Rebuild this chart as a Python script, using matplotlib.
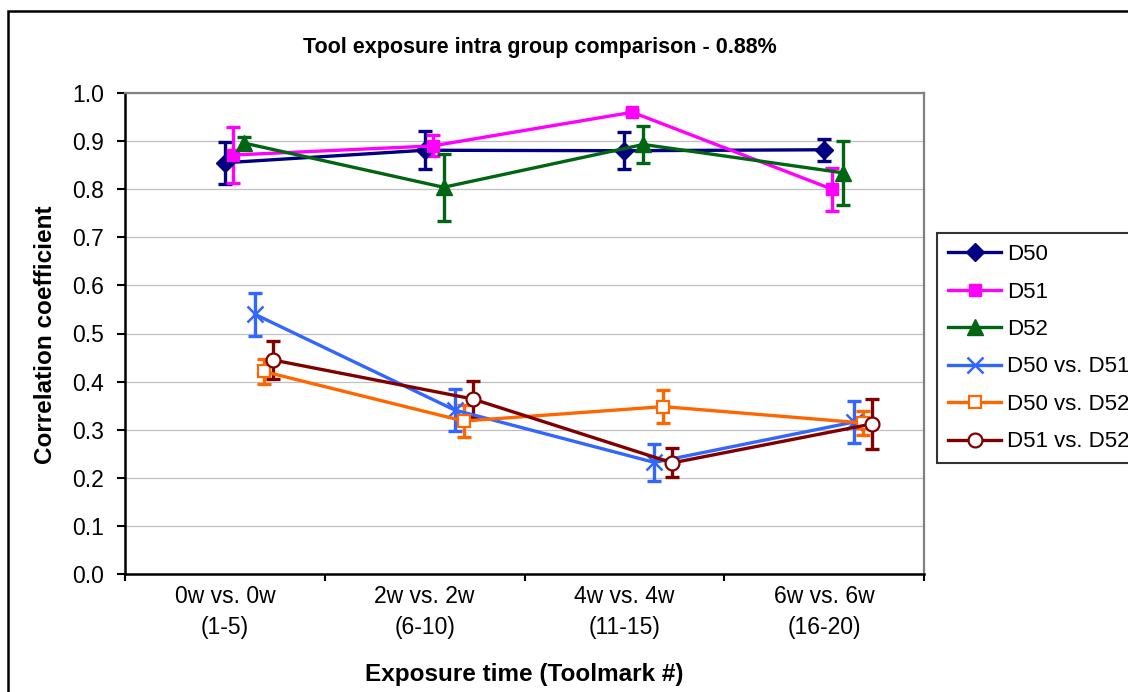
import matplotlib
matplotlib.use("Agg")
import matplotlib.pyplot as plt
from matplotlib.patches import Rectangle
import numpy as np

plt.rcParams['font.family'] = ['Liberation Sans', 'DejaVu Sans']

categories = ["0w vs. 0w\n(1-5)", "2w vs. 2w\n(6-10)", "4w vs. 4w\n(11-15)", "6w vs. 6w\n(16-20)"]
series_names = ["D50", "D51", "D52", "D50 vs. D51", "D50 vs. D52", "D51 vs. D52"]

d50 = [0.855, 0.881, 0.880, 0.882]
d50_err = [0.044, 0.040, 0.039, 0.023]
d51 = [0.871, 0.890, 0.960, 0.800]
d51_err = [0.058, 0.022, 0.004, 0.045]
d52 = [0.896, 0.804, 0.893, 0.834]
d52_err = [0.013, 0.070, 0.038, 0.067]
d50_d51 = [0.540, 0.341, 0.232, 0.316]
d50_d51_err = [0.045, 0.043, 0.038, 0.044]
d50_d52 = [0.421, 0.318, 0.348, 0.314]
d50_d52_err = [0.026, 0.033, 0.035, 0.024]
d51_d52 = [0.445, 0.364, 0.231, 0.312]
d51_d52_err = [0.040, 0.038, 0.030, 0.052]

values = [d50, d51, d52, d50_d51, d50_d52, d51_d52]
errors = [d50_err, d51_err, d52_err, d50_d51_err, d50_d52_err, d51_d52_err]

# styling
offsets = [0.0, 0.04, 0.095, 0.15, 0.195, 0.24]
colors = ["#000080", "#FF00FF", "#006614", "#3366FF", "#FF6600", "#800000"]
markers = ["D", "s", "^", "x", "s", "o"]
msizes = [9, 8, 11, 12, 9, 10]
mfaces = ["#000080", "#FF00FF", "#006614", "#3366FF", "white", "white"]

W, H = 1128, 692
fig = plt.figure(figsize=(W / 100, H / 100), dpi=100)
fig.patch.set_facecolor("white")
ax = fig.add_axes([125 / W, 1 - 574 / H, (924 - 125) / W, (574 - 93) / H])

x = np.arange(1, len(categories) + 1)
handles = []
for vals, errs, off, c, m, ms, mf, name in zip(values, errors, offsets, colors, markers, msizes, mfaces, series_names):
    xs = x + off
    ax.errorbar(xs, vals, yerr=errs, fmt='none', ecolor=c, elinewidth=2.4, capsize=4.8, capthick=2.4, zorder=3)
    mew = 1.6 if mf == "white" else (1.8 if m == "x" else 1)
    line, = ax.plot(xs, vals, color=c, lw=2.4, marker=m, markersize=ms, markerfacecolor=mf,
                    markeredgecolor=c, markeredgewidth=mew, label=name, zorder=4)
    handles.append(line)

ax.set_xlim(0.5, 4.5)
ax.set_ylim(0, 1.0)
ax.set_yticks(np.arange(0, 1.01, 0.1))
ax.set_yticklabels([f"{v:.1f}" for v in np.arange(0, 1.01, 0.1)], fontsize=16.5)
ax.set_xticks(x)
ax.set_xticklabels(categories, fontsize=16.5, linespacing=1.45)
ax.set_xticks(np.arange(0.5, 4.51, 0.5), minor=True)
ax.tick_params(axis='x', which='major', length=0, pad=8)
ax.tick_params(axis='x', which='minor', length=5, width=1.5, direction='out', color='black')
ax.tick_params(axis='y', which='major', length=6, width=1.5, direction='out', pad=9)

ax.grid(axis='y', color='#c0c0c0', lw=0.9, zorder=0)
ax.set_axisbelow(True)
for s in ("left", "bottom"):
    ax.spines[s].set_color("black")
    ax.spines[s].set_linewidth(1.8)
for s in ("top", "right"):
    ax.spines[s].set_color("#808080")
    ax.spines[s].set_linewidth(1.6)

fig.text(540 / W, 1 - 47 / H, "Tool exposure intra group comparison - 0.88%", ha='center', va='center',
         fontsize=15.5, fontweight='bold')
fig.text(46 / W, 1 - 335 / H, "Correlation coefficient", ha='center', va='center', rotation=90,
         fontsize=17.5, fontweight='bold')
fig.text(524 / W, 1 - 675 / H, "Exposure time (Toolmark #)", ha='center', va='center',
         fontsize=17.5, fontweight='bold')

leg = fig.legend(handles=handles, loc='upper left', bbox_to_anchor=(937 / W, 1 - 233 / H),
                 bbox_transform=fig.transFigure, fontsize=16, frameon=True, fancybox=False,
                 edgecolor='black', borderaxespad=0, handlelength=2.4, labelspacing=0.74,
                 handletextpad=0.25, borderpad=0.5)
leg.get_frame().set_linewidth(1.5)

fig.add_artist(Rectangle((8 / W, -0.1), 1.2, 1 - 11 / H + 0.1, transform=fig.transFigure,
                         fill=False, edgecolor='black', lw=1.8))

fig.savefig("out.png", dpi=100)
